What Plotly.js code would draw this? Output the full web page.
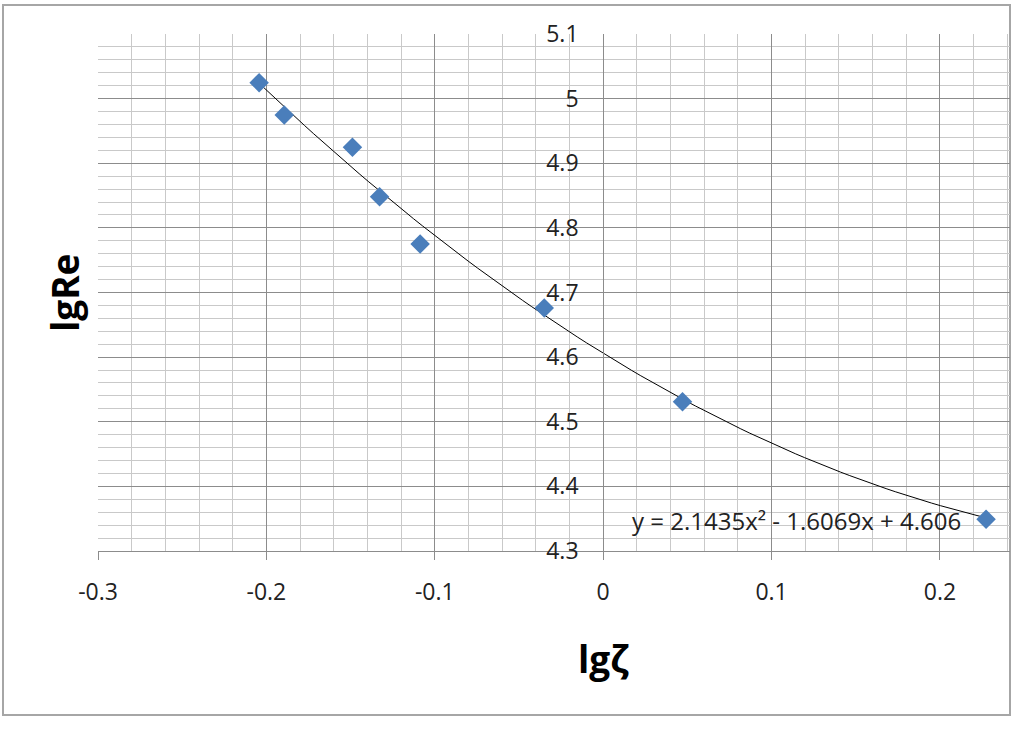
<!DOCTYPE html>
<html>
<head>
<meta charset="utf-8">
<script src="https://cdn.plot.ly/plotly-3.0.1.min.js"></script>
<style>
html,body{margin:0;padding:0;background:#fff;}
#chart{width:1012px;height:734px;}
</style>
</head>
<body>
<div id="chart"></div>
<script>
// Data
const lgZeta = [-0.2043, -0.1894, -0.1489, -0.1328, -0.1087, -0.0350, 0.0471, 0.2274];
const lgRe   = [5.0247, 4.9747, 4.9247, 4.8482, 4.7750, 4.6760, 4.5310, 4.3490];
// Trendline coefficients as displayed (a, b, c of y = a x^2 + b x + c)
const trendCoef = [2.1435, -1.6069, 4.606];
const trendLabel = 'y = 2.1435x\u00B2 - 1.6069x + 4.606';
const xTickVals = [-0.3, -0.2, -0.1, 0, 0.1, 0.2];
const xTickText = ['-0.3', '-0.2', '-0.1', '0', '0.1', '0.2'];
const xTitle = 'lg\u03B6';
const yTitle = 'lgRe';

const xMin = Math.min(...lgZeta), xMax = Math.max(...lgZeta);
const tx = [], ty = [];
for (let i = 0; i <= 80; i++) {
  const x = xMin + (xMax - xMin) * i / 80;
  tx.push(x);
  ty.push(trendCoef[0] * x * x + trendCoef[1] * x + trendCoef[2]);
}

const xRange = [-0.3, 0.2416];
const yAxisPos = (0 - xRange[0]) / (xRange[1] - xRange[0]);
const font = 'Open Sans, Lato, sans-serif';
const majorGrid = '#8c8c8c', minorGrid = '#c9c9c9';

const traces = [
  {x: tx, y: ty, mode: 'lines', line: {color: '#000000', width: 1}, hoverinfo: 'skip', showlegend: false},
  {x: lgZeta, y: lgRe, mode: 'markers', marker: {symbol: 'diamond', size: 15, color: '#4a7ebb'}, showlegend: false}
];

const layout = {
  width: 1012, height: 734,
  margin: {l: 98, r: 2, t: 34, b: 183},
  paper_bgcolor: '#ffffff', plot_bgcolor: '#ffffff',
  font: {family: font, size: 23, color: '#222222'},
  showlegend: false,
  xaxis: {
    range: xRange, tickmode: 'array', tickvals: xTickVals, ticktext: xTickText,
    showgrid: true, gridcolor: majorGrid, gridwidth: 1, zeroline: false,
    showline: true, linecolor: majorGrid, linewidth: 1,
    ticks: 'outside', ticklen: 8, tickcolor: majorGrid, ticklabelstandoff: 12,
    minor: {dtick: 0.02, tick0: -0.3, showgrid: true, gridcolor: minorGrid, gridwidth: 1},
    tickfont: {family: font, size: 23, color: '#222222'}
  },
  yaxis: {
    range: [4.3, 5.1], dtick: 0.1, tick0: 4.3,
    anchor: 'free', position: yAxisPos,
    showgrid: true, gridcolor: majorGrid, gridwidth: 1, zeroline: false,
    showline: true, linecolor: majorGrid, linewidth: 1,
    ticks: '', ticklabelstandoff: 20,
    minor: {dtick: 0.02, tick0: 4.3, showgrid: true, gridcolor: minorGrid, gridwidth: 1},
    tickfont: {family: font, size: 23, color: '#222222'}
  },
  annotations: [
    {text: trendLabel, xref: 'x', yref: 'y', x: 0.2135, y: 4.347, xanchor: 'right', yanchor: 'middle',
     showarrow: false, font: {family: font, size: 24, color: '#222222'}},
    {text: '<b>' + xTitle + '</b>', xref: 'paper', yref: 'paper', x: (603 - 98) / 912, y: (551 - 658) / 517,
     xanchor: 'center', yanchor: 'middle', showarrow: false, font: {family: font, size: 37, color: '#000000'}},
    {text: '<b>' + yTitle + '</b>', xref: 'paper', yref: 'paper', x: (64 - 98) / 912, y: (551 - 293) / 517,
     xanchor: 'center', yanchor: 'middle', textangle: -90, showarrow: false, font: {family: font, size: 37, color: '#000000'}}
  ],
  shapes: [
    {type: 'rect', xref: 'paper', yref: 'paper', x0: (3 - 98) / 912, x1: (1010 - 98) / 912,
     y0: (551 - 715) / 517, y1: (551 - 5) / 517, line: {color: '#a6a6a6', width: 2}, fillcolor: 'rgba(0,0,0,0)', layer: 'below'}
  ]
};

Plotly.newPlot('chart', traces, layout, {displayModeBar: false, staticPlot: true});
</script>
</body>
</html>
